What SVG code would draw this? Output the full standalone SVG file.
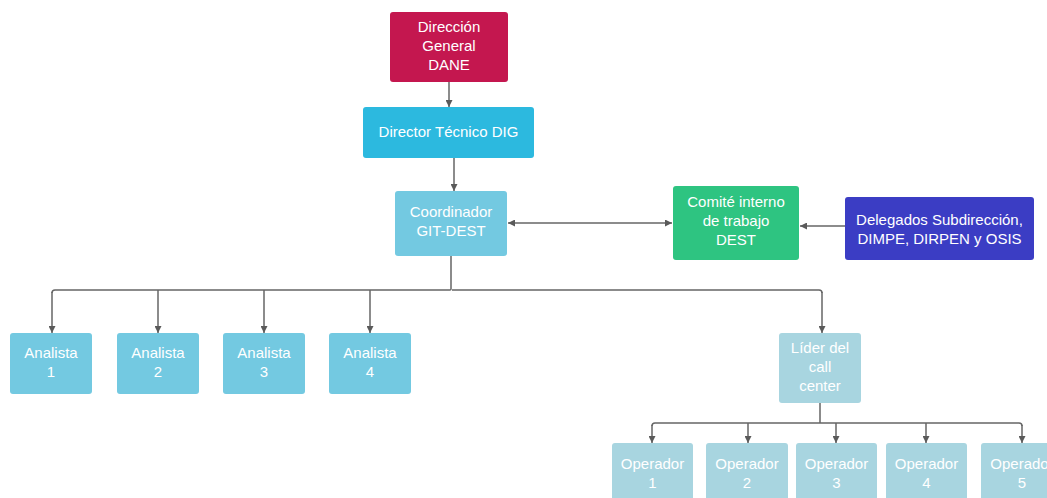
<svg xmlns="http://www.w3.org/2000/svg" width="1047" height="498" viewBox="0 0 1047 498">
<defs>
<marker id="ah" viewBox="0 0 10 10" refX="10" refY="5" markerWidth="7" markerHeight="7" markerUnits="userSpaceOnUse" orient="auto-start-reverse">
<path d="M0,0 L10,5 L0,10 z" fill="#5a5a5a"/>
</marker>
<style>
text{font-family:"Liberation Sans",Arial,sans-serif;font-size:15px;fill:#ffffff;text-anchor:middle}
.c{fill:none;stroke:#666666;stroke-width:1.5}
.a{marker-end:url(#ah)}
rect{rx:3;ry:3}
.dg{fill:#C4174F}
.dt{fill:#2CB9DF}
.co{fill:#73C9E1}
.cm{fill:#2EC481}
.de{fill:#3B3DC4}
.lc{fill:#A8D5E0}
</style>
</defs>
<rect width="1047" height="498" fill="#ffffff" style="rx:0"/>
<g id="connectors">
<path class="c a" d="M449,82 V107"/>
<path class="c a" d="M454,158 V191"/>
<path class="c a" d="M508,223 H672" marker-start="url(#ah)"/>
<path class="c a" d="M845,226 H800"/>
<path class="c" d="M451,256 V289 Q451,290 450,290 H55 Q52,290 52,293"/>
<path class="c a" d="M52,292 V333"/>
<path class="c a" d="M158,290 V333"/>
<path class="c a" d="M264,290 V333"/>
<path class="c a" d="M370,290 V333"/>
<path class="c" d="M452,290 H819 Q822,290 822,293"/>
<path class="c a" d="M822,292 V333"/>
<path class="c" d="M820,403 V423 M652,426 Q652,423 655,423 H1019 Q1022,423 1022,426"/>
<path class="c a" d="M652,425 V443"/>
<path class="c a" d="M748,423 V443"/>
<path class="c a" d="M836,423 V443"/>
<path class="c a" d="M926,423 V443"/>
<path class="c a" d="M1022,425 V443"/>
</g>
<g id="direccion-general"><rect class="dg" x="390" y="12" width="118" height="70"/><text x="449" y="32">Dirección</text><text x="449" y="51">General</text><text x="449" y="70">DANE</text></g>
<g id="director-tecnico"><rect class="dt" x="363" y="107" width="171" height="51"/><text x="448.5" y="137">Director Técnico DIG</text></g>
<g id="coordinador"><rect class="co" x="395" y="191" width="112" height="65"/><text x="451" y="217">Coordinador</text><text x="451" y="236">GIT-DEST</text></g>
<g id="comite"><rect class="cm" x="673" y="186" width="126" height="74"/><text x="736" y="207">Comité interno</text><text x="736" y="226">de trabajo</text><text x="736" y="245">DEST</text></g>
<g id="delegados"><rect class="de" x="845" y="197" width="189" height="63"/><text x="939.5" y="225">Delegados Subdirección,</text><text x="939.5" y="244">DIMPE, DIRPEN y OSIS</text></g>
<g id="analista1"><rect class="co" x="10" y="333" width="82" height="61"/><text x="51" y="358">Analista</text><text x="51" y="377">1</text></g>
<g id="analista2"><rect class="co" x="117" y="333" width="82" height="61"/><text x="158" y="358">Analista</text><text x="158" y="377">2</text></g>
<g id="analista3"><rect class="co" x="223" y="333" width="82" height="61"/><text x="264" y="358">Analista</text><text x="264" y="377">3</text></g>
<g id="analista4"><rect class="co" x="329" y="333" width="82" height="61"/><text x="370" y="358">Analista</text><text x="370" y="377">4</text></g>
<g id="lider"><rect class="lc" x="779" y="333" width="82" height="70"/><text x="820" y="353">Líder del</text><text x="820" y="372">call</text><text x="820" y="391">center</text></g>
<g id="operador1"><rect class="lc" x="612" y="443" width="81" height="62"/><text x="652.5" y="469">Operador</text><text x="652.5" y="488">1</text></g>
<g id="operador2"><rect class="lc" x="706" y="443" width="82" height="62"/><text x="747" y="469">Operador</text><text x="747" y="488">2</text></g>
<g id="operador3"><rect class="lc" x="796" y="443" width="81" height="62"/><text x="836.5" y="469">Operador</text><text x="836.5" y="488">3</text></g>
<g id="operador4"><rect class="lc" x="886" y="443" width="81" height="62"/><text x="926.5" y="469">Operador</text><text x="926.5" y="488">4</text></g>
<g id="operador5"><rect class="lc" x="981" y="443" width="82" height="62"/><text x="1022" y="469">Operador</text><text x="1022" y="488">5</text></g>
</svg>
